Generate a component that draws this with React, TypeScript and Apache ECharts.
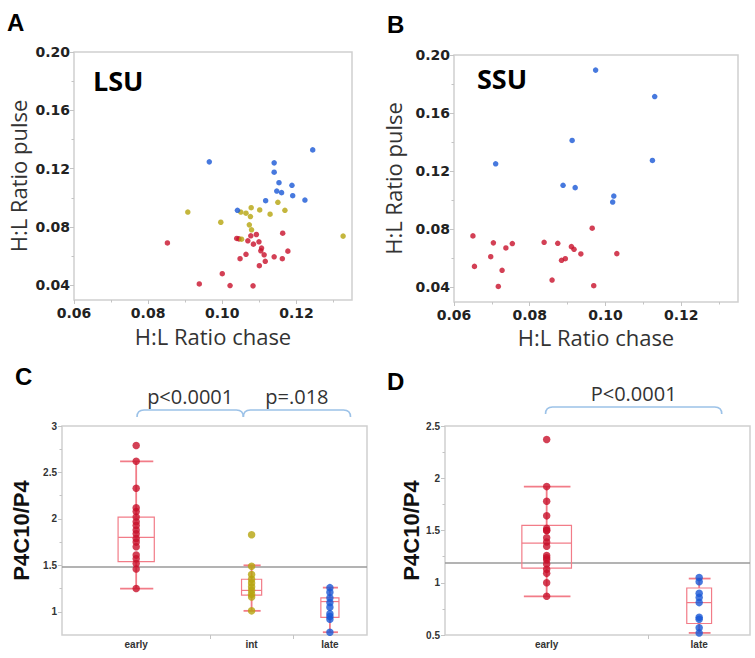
import React, { useEffect, useRef } from "react";
import * as echarts from "echarts";

// ---------- Panel A (LSU): [H:L ratio chase, H:L ratio pulse] ----------
const lsuRed = [
  [0.0852, 0.0691], [0.1039, 0.0722], [0.1045, 0.0719], [0.1077, 0.074], [0.1092, 0.0749],
  [0.1069, 0.0706], [0.1099, 0.0699], [0.1084, 0.0683], [0.1163, 0.0758], [0.1106, 0.0656],
  [0.1104, 0.0637], [0.1064, 0.0613], [0.1177, 0.0635], [0.1113, 0.061], [0.1048, 0.0583],
  [0.114, 0.0596], [0.1162, 0.0583], [0.1116, 0.0565], [0.11, 0.0535], [0.1, 0.048],
  [0.0938, 0.041], [0.1021, 0.0399], [0.1083, 0.0397],
];
const lsuYellow = [
  [0.0907, 0.0903], [0.0996, 0.0833], [0.105, 0.0903], [0.1064, 0.0895], [0.1078, 0.0933],
  [0.1076, 0.0872], [0.1101, 0.0917], [0.1129, 0.0888], [0.115, 0.097], [0.1169, 0.0915],
  [0.1073, 0.0815], [0.1079, 0.0781], [0.1052, 0.0717], [0.1326, 0.0738],
];
const lsuBlue = [
  [0.0965, 0.1247], [0.1244, 0.1329], [0.114, 0.124], [0.114, 0.1176], [0.1153, 0.1104],
  [0.1188, 0.1086], [0.1147, 0.1047], [0.116, 0.1036], [0.119, 0.1015], [0.1117, 0.0981],
  [0.1223, 0.0985], [0.1041, 0.0915],
];

// ---------- Panel B (SSU) ----------
const ssuRed = [
  [0.065, 0.0755], [0.0704, 0.0707], [0.0754, 0.0702], [0.0737, 0.0672], [0.0697, 0.0612],
  [0.0654, 0.0545], [0.0727, 0.0518], [0.0717, 0.0407], [0.0838, 0.0711], [0.0874, 0.0704],
  [0.091, 0.0681], [0.0917, 0.0663], [0.0935, 0.0631], [0.0884, 0.0587], [0.0894, 0.0598],
  [0.0965, 0.0808], [0.103, 0.0633], [0.0859, 0.0451], [0.0969, 0.0412],
];
const ssuBlue = [
  [0.0974, 0.1896], [0.113, 0.1714], [0.0912, 0.1412], [0.071, 0.1251], [0.1124, 0.1274],
  [0.0888, 0.1103], [0.092, 0.1087], [0.1022, 0.1029], [0.1019, 0.0988],
];

// ---------- Panel C (LSU P4C10/P4) ----------
const catsC = ["early", "int", "late"];
const earlyC = [2.79, 2.62, 2.33, 2.12, 2.08, 2.02, 1.97, 1.93, 1.88, 1.84, 1.79, 1.75, 1.7, 1.61, 1.57, 1.52, 1.46, 1.25];
const intC = [1.83, 1.49, 1.4, 1.35, 1.31, 1.27, 1.23, 1.19, 1.16, 1.01];
const lateC = [1.26, 1.21, 1.15, 1.1, 1.05, 0.98, 0.95, 0.92, 0.78];
// [lower whisker, q1, median, q3, upper whisker]
const boxStatsC = [
  [1.25, 1.54, 1.8, 2.02, 2.62],
  [1.01, 1.18, 1.23, 1.35, 1.5],
  [0.78, 0.94, 1.11, 1.15, 1.26],
];
const refC = 1.49;
const bracketsC = [
  { from: 9.1, to: 22.0, text: "p<0.0001" },
  { from: 22.0, to: 35.0, text: "p=.018" },
];

// ---------- Panel D (SSU P4C10/P4) ----------
const catsD = ["early", "late"];
const earlyD = [2.37, 1.92, 1.78, 1.64, 1.52, 1.5, 1.5, 1.43, 1.39, 1.35, 1.26, 1.24, 1.22, 1.18, 1.13, 1.09, 1.0, 0.87];
const lateD = [1.05, 1.01, 0.9, 0.86, 0.81, 0.67, 0.65, 0.57, 0.52];
const boxStatsD = [
  [0.87, 1.14, 1.38, 1.55, 1.92],
  [0.52, 0.61, 0.81, 0.95, 1.04],
];
const refD = 1.19;
const bracketsD = [{ from: 8.9, to: 24.5, text: "P<0.0001" }];

// ---------- tick labels ----------
const chaseTicks = [0.06, 0.08, 0.1, 0.12];
const chaseMinor = [0.07, 0.09, 0.11, 0.13];
const pulseTicks = [0.04, 0.08, 0.12, 0.16, 0.2];
const pulseMinor = [0.06, 0.1, 0.14, 0.18];
const ratioTicksC = [1, 1.5, 2, 2.5, 3];
const ratioMinorC = [1.25, 1.75, 2.25, 2.75];
const ratioTicksD = [0.5, 1, 1.5, 2, 2.5];
const ratioMinorD = [0.75, 1.25, 1.75, 2.25];

const RED = "#c8102a";
const YELLOW = "#b5a40c";
const BLUE = "#1957d6";
const BOX = "#f27c88";
const FRAME = "#d0d0d0";
const TICK = "#c4c4c4";

function groupLayout(groups: number[][]) {
  const ns = groups.map((g) => g.length);
  const centers: number[] = [];
  const bounds: number[] = [];
  let acc = 0;
  ns.forEach((n, i) => {
    centers.push(acc + n / 2);
    acc += n;
    if (i < ns.length - 1) bounds.push(acc);
  });
  return { ns, centers, bounds, total: acc };
}

const layoutC = groupLayout([earlyC, intC, lateC]);
const layoutD = groupLayout([earlyD, lateD]);

const tickFont = { fontFamily: "DejaVu Sans", fontWeight: "bold" as const, fontSize: 14, lineHeight: 15, color: "#222" };
const smallFont = { fontFamily: "Liberation Sans", fontWeight: "bold" as const, fontSize: 10, color: "#333" };
const nameFont = { fontFamily: "Open Sans", fontSize: 22, lineHeight: 24, color: "#333" };
const ratioNameFont = { fontFamily: "Liberation Sans", fontWeight: "bold" as const, fontSize: 22, color: "#111" };

function scatterAxes(grid: number, isX: boolean, nameGap: number) {
  const min = isX ? 0.06 : 0.03;
  const max = isX ? 0.135 : 0.2;
  const ticks = isX ? chaseTicks : pulseTicks;
  const minor = isX ? chaseMinor : pulseMinor;
  const main: any = {
    type: "value",
    gridIndex: grid,
    position: isX ? "bottom" : "left",
    min,
    max,
    axisLine: { show: false },
    splitLine: { show: false },
    axisTick: { show: true, customValues: ticks, length: 4, lineStyle: { color: TICK, width: 1 } },
    axisLabel: {
      customValues: ticks,
      formatter: (v: number) => v.toFixed(2),
      margin: isX ? 5 : 4,
      ...tickFont,
    },
    name: isX ? "H:L Ratio chase" : "H:L Ratio pulse",
    nameLocation: "middle",
    nameGap,
    nameTextStyle: nameFont,
  };
  const minorAxis: any = {
    type: "value",
    gridIndex: grid,
    position: isX ? "bottom" : "left",
    min,
    max,
    axisLine: { show: false },
    splitLine: { show: false },
    axisTick: { show: true, customValues: minor, length: 2.5, lineStyle: { color: TICK, width: 1 } },
    axisLabel: { show: false },
  };
  return [main, minorAxis];
}

function ratioYAxes(grid: number, min: number, max: number, ticks: number[], minor: number[], nameGap: number) {
  return [
    {
      type: "value",
      gridIndex: grid,
      position: "left",
      min,
      max,
      axisLine: { show: false },
      splitLine: { show: false },
      axisTick: { show: true, customValues: ticks, length: 4, lineStyle: { color: TICK } },
      axisLabel: { customValues: ticks, formatter: (v: number) => String(v), margin: 5, ...smallFont },
      name: "P4C10/P4",
      nameLocation: "middle",
      nameGap,
      nameTextStyle: ratioNameFont,
    },
    {
      type: "value",
      gridIndex: grid,
      position: "left",
      min,
      max,
      axisLine: { show: false },
      splitLine: { show: false },
      axisTick: { show: true, customValues: minor, length: 2.5, lineStyle: { color: TICK } },
      axisLabel: { show: false },
    },
  ];
}

function groupXAxis(grid: number, layout: ReturnType<typeof groupLayout>, cats: string[]) {
  return {
    type: "value",
    gridIndex: grid,
    position: "bottom",
    min: 0,
    max: layout.total,
    axisLine: { show: false },
    splitLine: { show: false },
    axisTick: { show: true, customValues: layout.bounds, length: 4, lineStyle: { color: TICK } },
    axisLabel: {
      customValues: layout.centers,
      formatter: (v: number) => {
        const i = layout.centers.findIndex((c) => Math.abs(c - v) < 1e-6);
        return i >= 0 ? cats[i] : "";
      },
      margin: 4,
      ...smallFont,
    },
  };
}

function boxSeries(xi: number, yi: number, layout: ReturnType<typeof groupLayout>, stats: number[][]) {
  const data = stats.map((s, i) => [layout.centers[i], layout.ns[i], ...s]);
  return {
    type: "custom",
    xAxisIndex: xi,
    yAxisIndex: yi,
    clip: false,
    silent: true,
    data,
    z: 2,
    renderItem: (_p: any, api: any) => {
      const c = api.value(0);
      const hw = api.value(1) * 0.122;
      const lo = api.value(2), q1 = api.value(3), med = api.value(4), q3 = api.value(5), hi = api.value(6);
      const tl = api.coord([c - hw, q3]);
      const br = api.coord([c + hw, q1]);
      const pm = api.coord([c, med]);
      const pLo = api.coord([c, lo]);
      const pHi = api.coord([c, hi]);
      const xL = tl[0], xR = br[0], xc = pm[0];
      const thin = { stroke: BOX, lineWidth: 1.2, fill: "none" };
      const thick = { stroke: BOX, lineWidth: 1.8, fill: "none" };
      return {
        type: "group",
        children: [
          { type: "rect", shape: { x: xL, y: tl[1], width: xR - xL, height: br[1] - tl[1] }, style: thin },
          { type: "line", shape: { x1: xL, y1: pm[1], x2: xR, y2: pm[1] }, style: thin },
          { type: "line", shape: { x1: xc, y1: tl[1], x2: xc, y2: pHi[1] }, style: thick },
          { type: "line", shape: { x1: xc, y1: br[1], x2: xc, y2: pLo[1] }, style: thick },
          { type: "line", shape: { x1: xL + 2, y1: pHi[1], x2: xR - 1, y2: pHi[1] }, style: thick },
          { type: "line", shape: { x1: xL + 2, y1: pLo[1], x2: xR - 1, y2: pLo[1] }, style: thick },
        ],
      };
    },
  };
}

function bracketSeries(xi: number, yi: number, yMax: number, brackets: { from: number; to: number; text: string }[], lineOff: number, textOff: number) {
  return {
    type: "custom",
    xAxisIndex: xi,
    yAxisIndex: yi,
    clip: false,
    silent: true,
    data: brackets.map((b) => [b.from, b.to]),
    renderItem: (p: any, api: any) => {
      const a = api.coord([api.value(0), yMax]);
      const b = api.coord([api.value(1), yMax]);
      const y = a[1] - lineOff;
      const x1 = a[0], x2 = b[0];
      const d = `M${x1} ${y + 7} Q${x1} ${y} ${x1 + 7} ${y} L${x2 - 7} ${y} Q${x2} ${y} ${x2} ${y + 7}`;
      return {
        type: "group",
        children: [
          { type: "path", shape: { pathData: d }, style: { stroke: "#9cc2e8", lineWidth: 1.6, fill: "none" } },
          {
            type: "text",
            style: {
              text: brackets[p.dataIndex].text,
              x: (x1 + x2) / 2,
              y: a[1] - textOff,
              align: "center",
              verticalAlign: "middle",
              fontFamily: "Open Sans",
              fontSize: 20,
              fill: "#333",
            },
          },
        ],
      };
    },
  };
}

function pointSeries(xi: number, yi: number, x: number, vals: number[], color: string, ref?: number) {
  const s: any = {
    type: "scatter",
    xAxisIndex: xi,
    yAxisIndex: yi,
    symbolSize: 7.5,
    itemStyle: { color },
    data: vals.map((v) => [x, v]),
    z: 3,
  };
  if (ref !== undefined) {
    s.markLine = {
      silent: true,
      symbol: "none",
      label: { show: false },
      lineStyle: { color: "#9a9a9a", width: 1.6, type: "solid" },
      data: [{ yAxis: ref }],
      z: 1,
    };
  }
  return s;
}

function scatterSeries(xi: number, yi: number, data: number[][], color: string) {
  return { type: "scatter", xAxisIndex: xi, yAxisIndex: yi, symbolSize: 5.5, itemStyle: { color }, data };
}

function label(text: string, x: number, y: number, size: number, family: string) {
  return {
    type: "text",
    x,
    y,
    silent: true,
    style: { text, fontFamily: family, fontWeight: "bold", fontSize: size, fill: "#000", verticalAlign: "middle" },
  };
}

export default function App() {
  const ref = useRef<HTMLDivElement>(null);
  useEffect(() => {
    if (!ref.current) return;
    const chart = echarts.init(ref.current, undefined, { renderer: "svg" });
    const gridStyle = { show: true, borderColor: FRAME, borderWidth: 1.5, backgroundColor: "transparent" };
    const [axA, axAm] = scatterAxes(0, true, 24);
    const [axB, axBm] = scatterAxes(1, true, 23);
    const [ayA, ayAm] = scatterAxes(0, false, 44);
    const [ayB, ayBm] = scatterAxes(1, false, 49);
    const [ayC, ayCm] = ratioYAxes(2, 0.75, 3, ratioTicksC, ratioMinorC, 30);
    const [ayD, ayDm] = ratioYAxes(3, 0.5, 2.5, ratioTicksD, ratioMinorD, 19);
    const option: any = {
      animation: false,
      backgroundColor: "#fff",
      grid: [
        { left: 74, top: 52, width: 278, height: 248, ...gridStyle },
        { left: 454, top: 55, width: 284, height: 247, ...gridStyle },
        { left: 62, top: 426, width: 305, height: 209, ...gridStyle },
        { left: 445, top: 426, width: 305, height: 209, ...gridStyle },
      ],
      xAxis: [axA, axB, groupXAxis(2, layoutC, catsC), groupXAxis(3, layoutD, catsD), axAm, axBm],
      yAxis: [ayA, ayB, ayC, ayD, ayAm, ayBm, ayCm, ayDm],
      graphic: [
        label("A", 7, 22, 24, "Liberation Sans"),
        label("B", 387, 24, 24, "Liberation Sans"),
        label("C", 15, 376, 24, "Liberation Sans"),
        label("D", 387, 381, 24, "Liberation Sans"),
        label("LSU", 93, 80, 27, "Open Sans"),
        label("SSU", 477, 78, 27, "Open Sans"),
      ],
      series: [
        scatterSeries(0, 0, lsuRed, RED),
        scatterSeries(0, 0, lsuYellow, YELLOW),
        scatterSeries(0, 0, lsuBlue, BLUE),
        scatterSeries(1, 1, ssuRed, RED),
        scatterSeries(1, 1, ssuBlue, BLUE),
        boxSeries(2, 2, layoutC, boxStatsC),
        pointSeries(2, 2, layoutC.centers[0], earlyC, RED, refC),
        pointSeries(2, 2, layoutC.centers[1], intC, YELLOW),
        pointSeries(2, 2, layoutC.centers[2], lateC, BLUE),
        bracketSeries(2, 2, 3, bracketsC, 16, 30),
        boxSeries(3, 3, layoutD, boxStatsD),
        pointSeries(3, 3, layoutD.centers[0], earlyD, RED, refD),
        pointSeries(3, 3, layoutD.centers[1], lateD, BLUE),
        bracketSeries(3, 3, 2.5, bracketsD, 19, 33),
      ],
    };
    chart.setOption(option);
    return () => chart.dispose();
  }, []);
  return (
    <div
      ref={ref}
      style={{ position: "fixed", left: 0, top: 0, width: 755, height: 658, background: "#fff" }}
    />
  );
}
